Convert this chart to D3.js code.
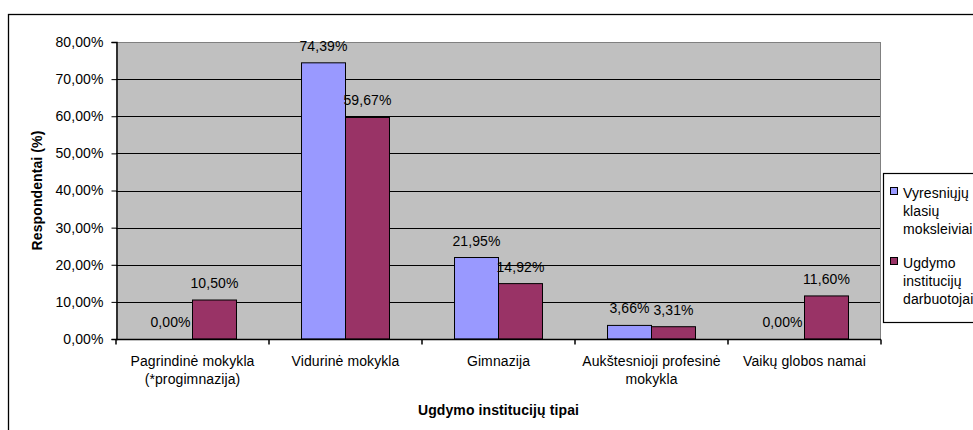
<!DOCTYPE html>
<html lang="lt">
<head>
<meta charset="UTF-8">
<title>Ugdymo institucijų tipai</title>
<script src="https://d3js.org/d3.v7.min.js"></script>
<style>
  body { margin: 0; background: #fff; }
  svg text { font-family: Arial, "Liberation Sans", sans-serif; fill: #000; }
</style>
</head>
<body>
<div id="chart"></div>
<script>
// data
var categories = [
  ["Pagrindinė mokykla", "(*progimnazija)"],
  ["Vidurinė mokykla"],
  ["Gimnazija"],
  ["Aukštesnioji profesinė", "mokykla"],
  ["Vaikų globos namai"]
];
var seriesNames = [
  ["Vyresniųjų", "klasių", "moksleiviai"],
  ["Ugdymo", "institucijų", "darbuotojai"]
];
var students = [0.0, 74.39, 21.95, 3.66, 0.0];
var staff = [10.50, 59.67, 14.92, 3.31, 11.60];
var yTicks = [0, 10, 20, 30, 40, 50, 60, 70, 80];
var colors = ["#9999FF", "#993366"];

var W = 973, H = 430;
var plot = {left: 116, right: 881, top: 42, bottom: 339};
var fs = "14px", ls = "0.1px";

var svg = d3.select("#chart").append("svg")
  .attr("width", W).attr("height", H);

// outer chart border (runs past the right and bottom edges)
svg.append("rect")
  .attr("x", 8.5).attr("y", 14.5)
  .attr("width", 1000).attr("height", 440)
  .attr("fill", "#fff").attr("stroke", "#000").attr("stroke-width", 1.3);

var x = d3.scaleBand()
  .domain(d3.range(categories.length))
  .range([plot.left, plot.right]);

var x1 = d3.scaleBand()
  .domain([0, 1])
  .range([x.bandwidth() * 0.2125, x.bandwidth() * 0.7875]);

var y = d3.scaleLinear().domain([0, 80]).range([plot.bottom, plot.top]);

// plot area
svg.append("rect")
  .attr("x", plot.left).attr("y", plot.top)
  .attr("width", plot.right - plot.left).attr("height", plot.bottom - plot.top)
  .attr("fill", "#C0C0C0");

// gridlines
svg.append("g").selectAll("line")
  .data(yTicks.slice(1))
  .join("line")
  .attr("x1", plot.left).attr("x2", plot.right)
  .attr("y1", d => Math.round(y(d)) + 0.5).attr("y2", d => Math.round(y(d)) + 0.5)
  .attr("stroke", d => d === 80 ? "#808080" : "#000")
  .attr("stroke-width", 1);

// right border of plot area
svg.append("line")
  .attr("x1", plot.right - 0.5).attr("x2", plot.right - 0.5)
  .attr("y1", plot.top).attr("y2", plot.bottom)
  .attr("stroke", "#808080");

var fmt = v => v.toFixed(2).replace(".", ",") + "%";

// bars
var data = [students, staff];
data.forEach(function(vals, s) {
  svg.append("g").selectAll("rect")
    .data(vals)
    .join("rect")
    .attr("x", (d, i) => x(i) + x1(s))
    .attr("y", d => y(d))
    .attr("width", x1.bandwidth())
    .attr("height", d => y(0) - y(d))
    .attr("fill", colors[s])
    .attr("stroke", d => d > 0 ? "#000" : "none")
    .attr("stroke-width", 1);

  svg.append("g").selectAll("text")
    .data(vals)
    .join("text")
    .attr("x", (d, i) => x(i) + x1(s) + x1.bandwidth() / 2)
    .attr("y", d => y(d) - 12)
    .attr("text-anchor", "middle")
    .style("font-size", fs)
    .style("letter-spacing", ls)
    .text(d => fmt(d));
});

// y axis
var yAxis = svg.append("g")
  .attr("transform", "translate(" + (plot.left + 0.5) + ",0)")
  .call(d3.axisLeft(y).tickValues(yTicks).tickSize(5).tickPadding(8)
    .tickFormat(d => d.toFixed(2).replace(".", ",") + "%"));
yAxis.select(".domain").attr("stroke", "#000").attr("stroke-width", 1.5);
yAxis.selectAll("text").style("font-size", fs).style("letter-spacing", ls)
  .style("font-family", "Arial, 'Liberation Sans', sans-serif");

// x axis
var xAxisG = svg.append("g").attr("transform", "translate(0," + (plot.bottom + 0.5) + ")");
xAxisG.append("line")
  .attr("x1", plot.left).attr("x2", plot.right)
  .attr("stroke", "#000").attr("stroke-width", 1.5);
xAxisG.selectAll(".tick")
  .data(d3.range(categories.length + 1))
  .join("line")
  .attr("x1", d => d < categories.length ? x(d) : plot.right)
  .attr("x2", d => d < categories.length ? x(d) : plot.right)
  .attr("y1", 0).attr("y2", 5)
  .attr("stroke", "#000").attr("stroke-width", 1.5);

svg.append("g").selectAll("text")
  .data(categories)
  .join("text")
  .attr("x", (d, i) => x(i) + x.bandwidth() / 2)
  .attr("y", 366)
  .attr("text-anchor", "middle")
  .style("font-size", fs)
  .style("letter-spacing", ls)
  .each(function(d) {
    d3.select(this).selectAll("tspan")
      .data(d)
      .join("tspan")
      .attr("x", d3.select(this).attr("x"))
      .attr("dy", (t, j) => j === 0 ? 0 : 18)
      .text(t => t);
  });

// axis titles
svg.append("text")
  .attr("transform", "translate(42," + ((plot.top + plot.bottom) / 2) + ") rotate(-90)")
  .attr("text-anchor", "middle")
  .style("font-size", fs).style("font-weight", "bold").style("letter-spacing", ls)
  .text("Respondentai (%)");

svg.append("text")
  .attr("x", (plot.left + plot.right) / 2)
  .attr("y", 415)
  .attr("text-anchor", "middle")
  .style("font-size", fs).style("font-weight", "bold").style("letter-spacing", ls)
  .text("Ugdymo institucijų tipai");

// legend (box runs past the right edge, as in the original)
var legend = svg.append("g");
legend.append("rect")
  .attr("x", 883.5).attr("y", 173.5)
  .attr("width", 140).attr("height", 149)
  .attr("fill", "#fff").attr("stroke", "#000").attr("stroke-width", 1.2);

seriesNames.forEach(function(lines, s) {
  var top = 198 + s * 70;
  legend.append("rect")
    .attr("x", 890.5).attr("y", top - 10.5)
    .attr("width", 7).attr("height", 7)
    .attr("fill", colors[s]).attr("stroke", "#000");
  legend.append("text")
    .attr("x", 903).attr("y", top)
    .style("font-size", fs).style("letter-spacing", ls)
    .selectAll("tspan")
    .data(lines)
    .join("tspan")
    .attr("x", 903)
    .attr("dy", (t, j) => j === 0 ? 0 : 18)
    .text(t => t);
});
</script>
</body>
</html>
